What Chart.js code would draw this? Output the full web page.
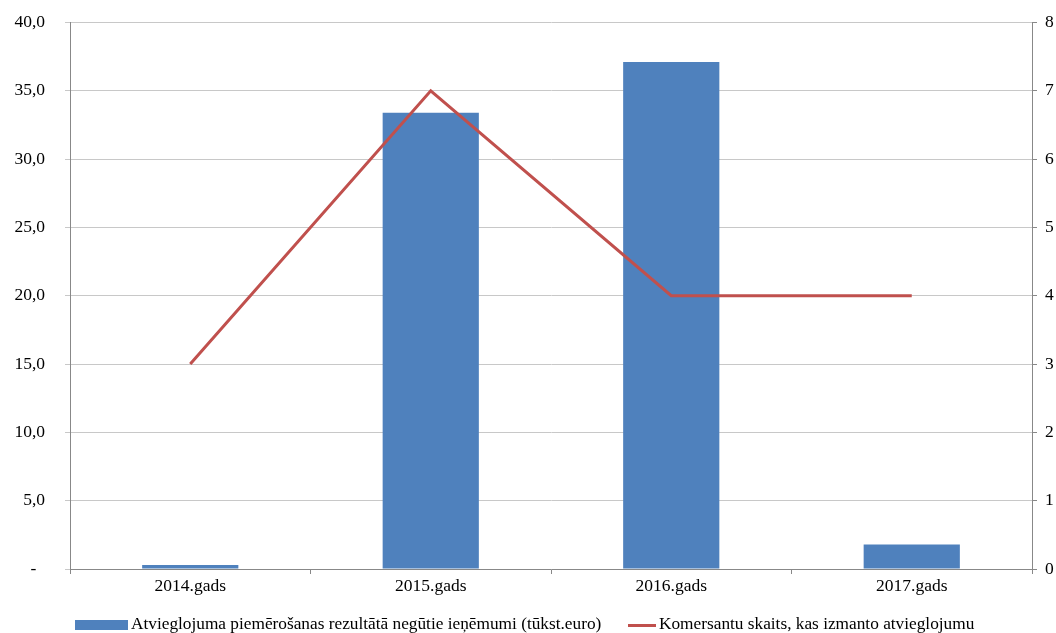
<!DOCTYPE html>
<html>
<head>
<meta charset="utf-8">
<script src="https://cdn.jsdelivr.net/npm/chart.js@4"></script>
<style>
  html, body { margin: 0; padding: 0; background: #fff; }
  #wrap { position: relative; width: 1056px; height: 633px; overflow: hidden; }
  #chart { position: absolute; left: 0; top: -8px; }
  #legend {
    position: absolute; left: 0; top: 614px; width: 1056px; height: 24px;
    font-family: "Liberation Serif", "Times New Roman", serif; font-size: 17.3px; color: #000;
    white-space: nowrap;
  }
  .item { position: absolute; top: 0; }
  .swatch { display: inline-block; vertical-align: middle; margin-right: 3px; }
</style>
</head>
<body>
<div id="wrap">
  <canvas id="chart" width="1056" height="641"></canvas>
  <div id="legend">
    <span class="item" style="left:75px"><span class="swatch" style="width:53px;height:10px;background:#4F81BD"></span>Atvieglojuma piemērošanas rezultātā negūtie ieņēmumi (tūkst.euro)</span>
    <span class="item" style="left:628px"><span class="swatch" style="width:28px;height:3px;background:#C0504D"></span>Komersantu skaits, kas izmanto atvieglojumu</span>
  </div>
</div>
<script>
const years = ['2014.gads', '2015.gads', '2016.gads', '2017.gads'];
const lostRevenue = [0.3, 33.4, 37.1, 1.8];
const companies = [3, 7, 4, 4];

const serif = '"Liberation Serif", "Times New Roman", serif';

const ctx = document.getElementById('chart').getContext('2d');
new Chart(ctx, {
    data: {
        labels: years,
        datasets: [{
            type: 'line',
            label: 'Komersantu skaits, kas izmanto atvieglojumu',
            data: companies,
            borderColor: '#C0504D',
            borderWidth: 3,
            pointRadius: 0,
            tension: 0,
            yAxisID: 'y2',
            order: 0
        }, {
            type: 'bar',
            label: 'Atvieglojuma piemērošanas rezultātā negūtie ieņēmumi (tūkst.euro)',
            data: lostRevenue,
            backgroundColor: '#4F81BD',
            categoryPercentage: 0.8,
            barPercentage: 0.5,
            yAxisID: 'y',
            order: 1
        }]
    },
    options: {
        responsive: false,
        animation: false,
        layout: { padding: { top: 5, bottom: 30, left: 0, right: 0 } },
        plugins: { legend: { display: false }, tooltip: { enabled: false } },
        scales: {
            x: {
                offset: true,
                grid: { offset: true, drawOnChartArea: false, tickLength: 5, color: '#888' },
                border: { color: '#888' },
                ticks: { color: '#000', font: { family: serif, size: 17.5 }, padding: 2 },
                afterFit: s => { s.height = 34; }
            },
            y: {
                position: 'left',
                min: 0, max: 40,
                ticks: {
                    stepSize: 5, color: '#000', padding: 20,
                    font: { family: serif, size: 17.5 },
                    callback: v => v === 0 ? '-  ' : v.toFixed(1).replace('.', ',')
                },
                grid: { color: '#C8C8C8', tickLength: 5 },
                border: { color: '#888' },
                afterFit: s => { s.width = 70; }
            },
            y2: {
                position: 'right',
                min: 0, max: 8,
                ticks: { stepSize: 1, color: '#000', padding: 8, font: { family: serif, size: 17.5 } },
                grid: { drawOnChartArea: false, tickLength: 5, color: '#888' },
                border: { color: '#888' },
                afterFit: s => { s.width = 24; }
            }
        }
    }
});
</script>
</body>
</html>
